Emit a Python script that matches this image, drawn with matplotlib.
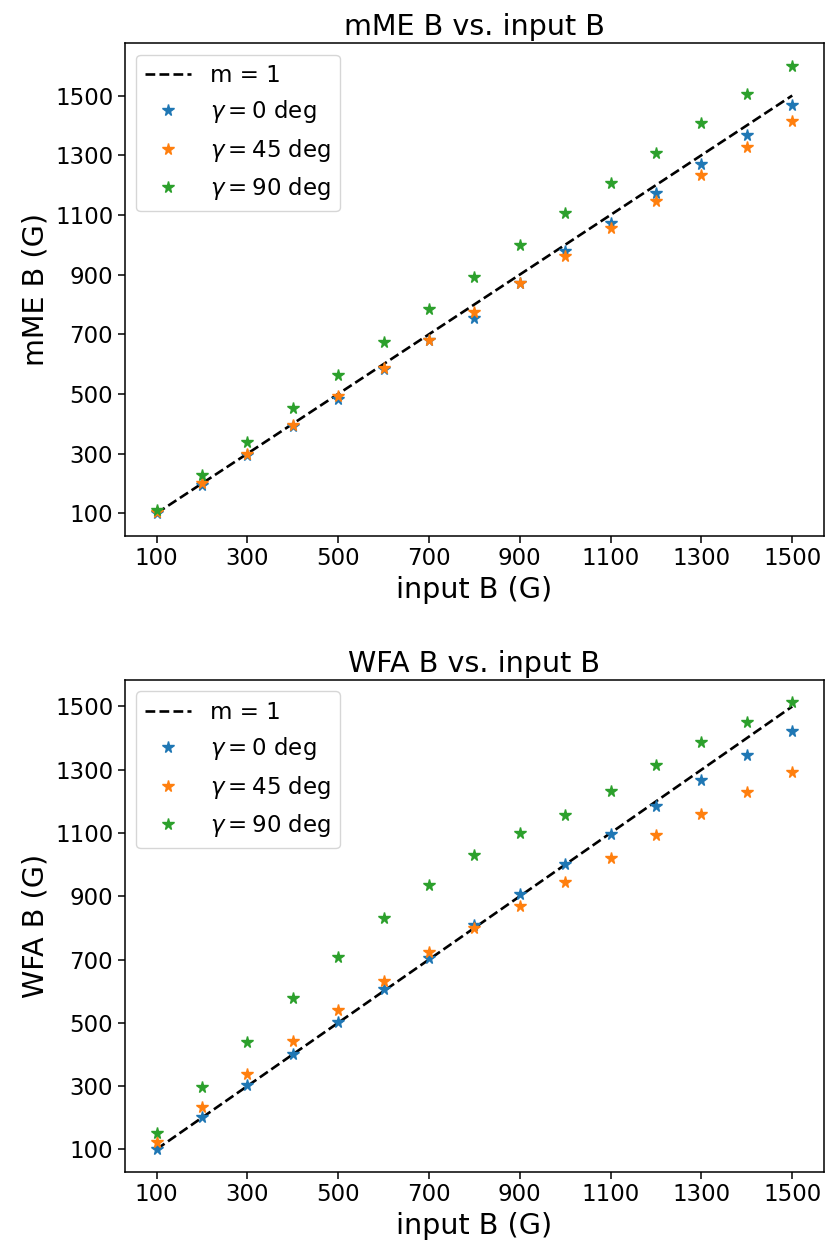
import matplotlib
matplotlib.use("Agg")
import matplotlib.pyplot as plt

input_B = [100, 200, 300, 400, 500, 600, 700, 800, 900, 1000, 1100, 1200, 1300, 1400, 1500]

mme_g0 = [102, 194, 296, 393, 484, 583, 680, 755, 872, 978, 1073, 1173, 1269, 1369, 1469]
mme_g45 = [104, 201, 298, 395, 492, 588, 682, 776, 873, 962, 1055, 1145, 1235, 1327, 1416]
mme_g90 = [112, 227, 339, 453, 564, 674, 785, 891, 1000, 1107, 1208, 1309, 1407, 1505, 1600]

wfa_g0 = [102, 203, 302, 402, 504, 606, 706, 809, 907, 1003, 1098, 1184, 1268, 1347, 1423]
wfa_g45 = [124, 233, 338, 441, 541, 633, 724, 800, 869, 945, 1021, 1093, 1161, 1229, 1292]
wfa_g90 = [153, 298, 439, 578, 709, 830, 937, 1029, 1101, 1158, 1233, 1315, 1387, 1452, 1513]

ticks = [100, 300, 500, 700, 900, 1100, 1300, 1500]
labels = ["$\\gamma = 0$ deg", "$\\gamma = 45$ deg", "$\\gamma = 90$ deg"]

fig = plt.figure(figsize=(8.25, 12.45), dpi=100)
ax1 = fig.add_axes([0.1512, 0.5697, 0.8476, 0.3955])
ax2 = fig.add_axes([0.1512, 0.0589, 0.8476, 0.3949])

panels = [
    (ax1, [mme_g0, mme_g45, mme_g90], "mME B (G)", "mME B vs. input B"),
    (ax2, [wfa_g0, wfa_g45, wfa_g90], "WFA B (G)", "WFA B vs. input B"),
]

for ax, series, ylab, title in panels:
    ax.plot(input_B, input_B, "k--", lw=1.9, label="m = 1")
    for s, lab in zip(series, labels):
        ax.plot(input_B, s, "*", ms=8.5, linestyle="none", label=lab)
    ax.set_xticks(ticks)
    ax.set_yticks(ticks)
    ax.tick_params(labelsize=16.5, length=4.8, width=1.1)
    for sp in ax.spines.values():
        sp.set_linewidth(1.1)
    ax.set_xlabel("input B (G)", fontsize=20.6)
    ax.set_ylabel(ylab, fontsize=20.6)
    ax.set_title(title, fontsize=20.6)
    ax.legend(loc="upper left", fontsize=16.5)

fig.savefig("out.png", dpi=100)
